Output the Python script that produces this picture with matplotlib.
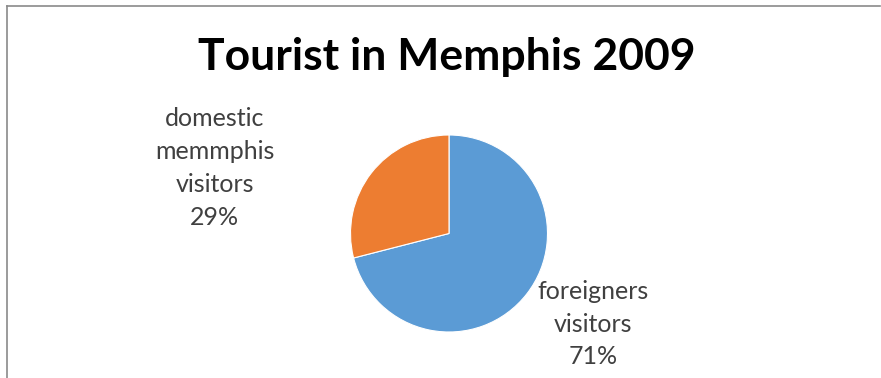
import numpy as np
import matplotlib
matplotlib.use("Agg")
import matplotlib.pyplot as plt
from matplotlib.lines import Line2D

# ----------------------------

W, H = 881, 378

TITLE = "Tourist in Memphis 2009"

categories = ["foreigners\nvisitors", "domestic\nmemmphis\nvisitors"]

shares = [71, 29]

colors = ["#5B9BD5", "#ED7D31"]

# label centres, in pie radii from the pie centre
label_pos = [(1.46, -0.92), (-2.38, 0.665)]

# ----------------------------

plt.rcParams["font.family"] = ["Lato", "DejaVu Sans"]

fig = plt.figure(figsize=(W / 100, H / 100), dpi=100)

# pie centre and radius in pixels
cx, cy, r = 449, 378 - 233.5, 98.5

ax = fig.add_axes([0, 0, 1, 1])

ax.pie(
    shares,
    colors=colors,
    startangle=90,
    counterclock=False,
    radius=1,
    center=(0, 0),
    wedgeprops=dict(edgecolor="white", linewidth=0.8),
    frame=True,
)
ax.set_xlim(-cx / r, (W - cx) / r)
ax.set_ylim(-cy / r, (H - cy) / r)
ax.set_aspect("auto")
ax.axis("off")

for name, val, (lx, ly) in zip(categories, shares, label_pos):
    ax.text(lx, ly, f"{name}\n{val}%", ha="center", va="center",
            fontsize=18, color="#404040", linespacing=1.52)

fig.text(447 / W, 1 - 70 / H, TITLE, ha="center", va="baseline",
         fontsize=32, fontweight="bold", color="black")

# chart border (top and left edges visible)
fig.add_artist(Line2D([6.5 / W, 6.5 / W], [0, 1 - 5.5 / H],
                      transform=fig.transFigure, color="#8a8a8a", lw=1.2))
fig.add_artist(Line2D([6.5 / W, 880 / W], [1 - 5.5 / H, 1 - 5.5 / H],
                      transform=fig.transFigure, color="#8a8a8a", lw=1.2))

fig.savefig("out.png", dpi=100)
